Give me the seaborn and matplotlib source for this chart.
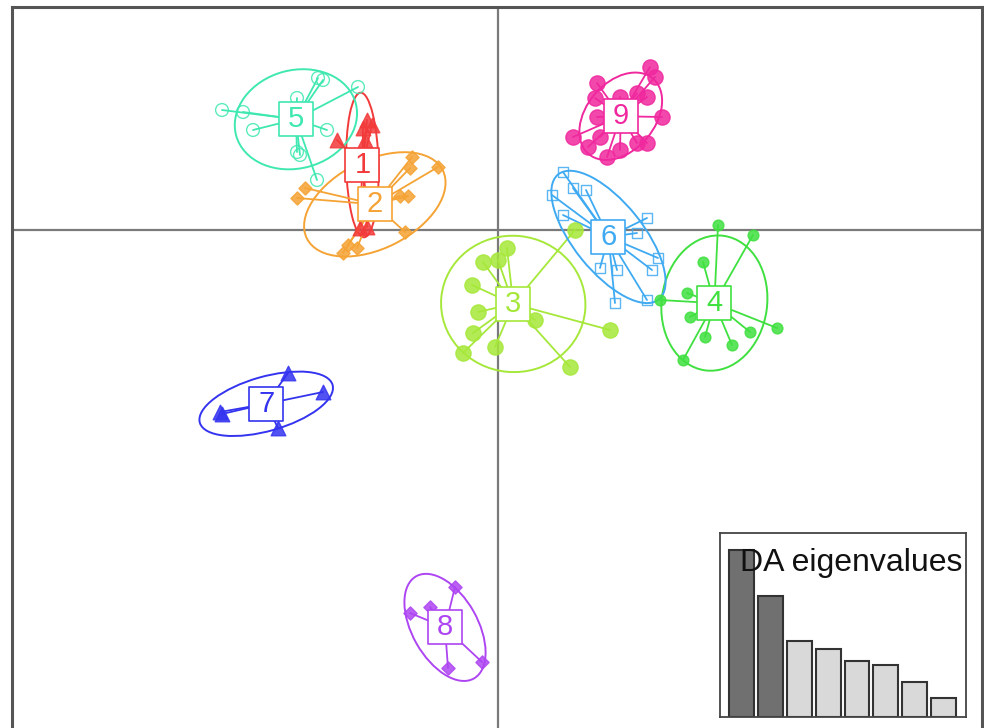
import numpy as np
import pandas as pd
import matplotlib
matplotlib.use("Agg")
import matplotlib.pyplot as plt
from matplotlib.patches import Ellipse
from matplotlib.markers import MarkerStyle
import seaborn as sns

# ---- data (discriminant function scores) ----
groups = ["1", "2", "3", "4", "5", "6", "7", "8", "9"]

g1_x = [-3.22, -2.66, -2.70, -2.52, -2.62, -2.76, -2.62, -2.60]
g1_y = [1.80, 1.80, 2.04, 2.10, 2.20, 0.04, 0.06, 0.36]

g2_x = [-4.02, -3.86, -1.72, -1.20, -1.76, -1.96, -1.80, -1.86, -3.10, -3.00, -2.82]
g2_y = [0.64, 0.84, 1.46, 1.26, 1.24, 0.68, 0.68, -0.04, -0.46, -0.30, -0.36]

g3_x = [1.54, 0.18, -0.30, 0.00, -0.52, -0.40, -0.50, -0.70, -0.06, 0.74, 2.24, 1.44]
g3_y = [0.00, -0.36, -0.64, -0.60, -1.10, -1.64, -2.06, -2.46, -2.34, -1.80, -2.00, -2.74]

g4_x = [4.40, 5.10, 4.10, 3.78, 3.24, 3.84, 4.14, 4.68, 5.04, 5.58, 3.70]
g4_y = [0.10, -0.10, -0.64, -1.26, -1.40, -1.74, -2.14, -2.30, -2.04, -1.96, -2.60]

g5_x = [-5.52, -5.10, -4.90, -4.02, -3.60, -3.50, -2.80, -3.42, -4.02, -3.96, -3.62]
g5_y = [2.40, 2.36, 2.00, 2.64, 3.04, 3.00, 2.86, 2.00, 1.56, 1.50, 1.00]

g6_x = [1.08, 1.30, 1.50, 1.76, 1.30, 2.98, 2.78, 3.20, 3.08, 2.38, 2.04, 2.34, 2.98]
g6_y = [0.70, 1.16, 0.84, 0.80, 0.30, 0.24, -0.06, -0.56, -0.80, -0.80, -0.76, -1.46, -1.40]

g7_x = [-5.56, -5.52, -4.20, -3.50, -4.40]
g7_y = [-3.64, -3.68, -2.86, -3.24, -3.96]

g8_x = [-0.86, -1.36, -1.76, -1.00, -0.32]
g8_y = [-7.14, -7.54, -7.66, -8.76, -8.64]

g9_x = [3.04, 3.14, 1.98, 1.94, 2.44, 2.78, 2.98, 3.28, 1.98, 1.50, 1.80, 2.18, 2.44, 2.78, 2.98, 2.04]
g9_y = [3.26, 3.06, 2.94, 2.64, 2.66, 2.74, 2.66, 2.26, 2.26, 1.86, 1.66, 1.46, 1.60, 1.74, 1.74, 1.86]

eig_values = [166, 120, 76, 68, 56, 52, 35, 19]
eig_retained = 2
inset_title = "DA eigenvalues"

# ---- styles ----
soft = ["#F23A3A", "#F5A334", "#A6E83A", "#3FE03F", "#3FE8B0",
        "#3FAAF2", "#3434F0", "#AE45F2", "#F0289E"]
markers = ["^", "D", "o", "o", MarkerStyle("o", fillstyle="none"),
           MarkerStyle("s", fillstyle="none"), "^", "D", "o"]
msizes = [110, 45, 120, 60, 85, 55, 110, 45, 120]

xs = [g1_x, g2_x, g3_x, g4_x, g5_x, g6_x, g7_x, g8_x, g9_x]
ys = [g1_y, g2_y, g3_y, g4_y, g5_y, g6_y, g7_y, g8_y, g9_y]

df = pd.concat([pd.DataFrame({"LD1": x, "LD2": y, "group": g})
                for g, x, y in zip(groups, xs, ys)], ignore_index=True)

sns.set_theme(style="white")
plt.rcParams["font.family"] = ["Liberation Sans", "DejaVu Sans"]

fig = plt.figure(figsize=(9.84, 7.28), dpi=100)
ax = fig.add_axes([12 / 984, 0.0, 970 / 984, 1 - 7 / 728])
ax.set_xlim(-9.72, 9.68)
ax.set_ylim(-9.96, 4.46)

ax.axvline(0, color="#7a7a7a", lw=1.6, zorder=0)
ax.axhline(0, color="#7a7a7a", lw=1.6, zorder=0)

for i, g in enumerate(groups):
    sub = df[df["group"] == g]
    cx, cy = sub["LD1"].mean(), sub["LD2"].mean()
    c = soft[i]
    for px, py in zip(sub["LD1"], sub["LD2"]):
        ax.plot([cx, px], [cy, py], color=c, lw=1.3, zorder=2)
    cov = np.cov(sub["LD1"], sub["LD2"])
    vals, vecs = np.linalg.eigh(cov)
    order = vals.argsort()[::-1]
    vals, vecs = vals[order], vecs[:, order]
    ang = np.degrees(np.arctan2(vecs[1, 0], vecs[0, 0]))
    ell = Ellipse((cx, cy), 2 * 1.5 * np.sqrt(vals[0]), 2 * 1.5 * np.sqrt(vals[1]),
                  angle=ang, fill=False, ec=c, lw=1.4, zorder=2)
    ax.add_patch(ell)
    sns.scatterplot(data=sub, x="LD1", y="LD2", ax=ax, color=c, marker=markers[i],
                    s=msizes[i], edgecolor=c, linewidth=1.0, alpha=0.85,
                    legend=False, zorder=3)
    ax.scatter([cx], [cy], marker="s", s=620, facecolor="white", edgecolor=c,
               linewidth=1.2, zorder=4)
    ax.text(cx, cy, g, ha="center", va="center", color=c, fontsize=21, zorder=5)

ax.set_xlabel("")
ax.set_ylabel("")
ax.set_xticks([])
ax.set_yticks([])
for side in ["top", "left", "right"]:
    ax.spines[side].set_color("#555555")
    ax.spines[side].set_linewidth(2.2)
ax.spines["bottom"].set_visible(False)

# ---- inset eigenvalues ----
iax = fig.add_axes([720 / 984, 1 - 717 / 728, 246 / 984, 184 / 728])
eig_df = pd.DataFrame({"axis": [str(i + 1) for i in range(len(eig_values))],
                       "eig": eig_values})
bar_cols = ["#707070" if i < eig_retained else "#d9d9d9" for i in range(len(eig_values))]
sns.barplot(data=eig_df, x="axis", y="eig", hue="axis", palette=bar_cols,
            legend=False, width=0.86, edgecolor="#333333", linewidth=1.5, ax=iax)
iax.set_xlim(-0.74, 7.77)
iax.set_ylim(0, 183)
iax.set_xticks([])
iax.set_yticks([])
iax.set_xlabel("")
iax.set_ylabel("")
for s in iax.spines.values():
    s.set_color("#444444")
    s.set_linewidth(1.3)
iax.text(0.081, 0.837, inset_title, transform=iax.transAxes, ha="left", va="center",
         fontsize=23, color="#111111")

fig.savefig("out.png", dpi=100)
